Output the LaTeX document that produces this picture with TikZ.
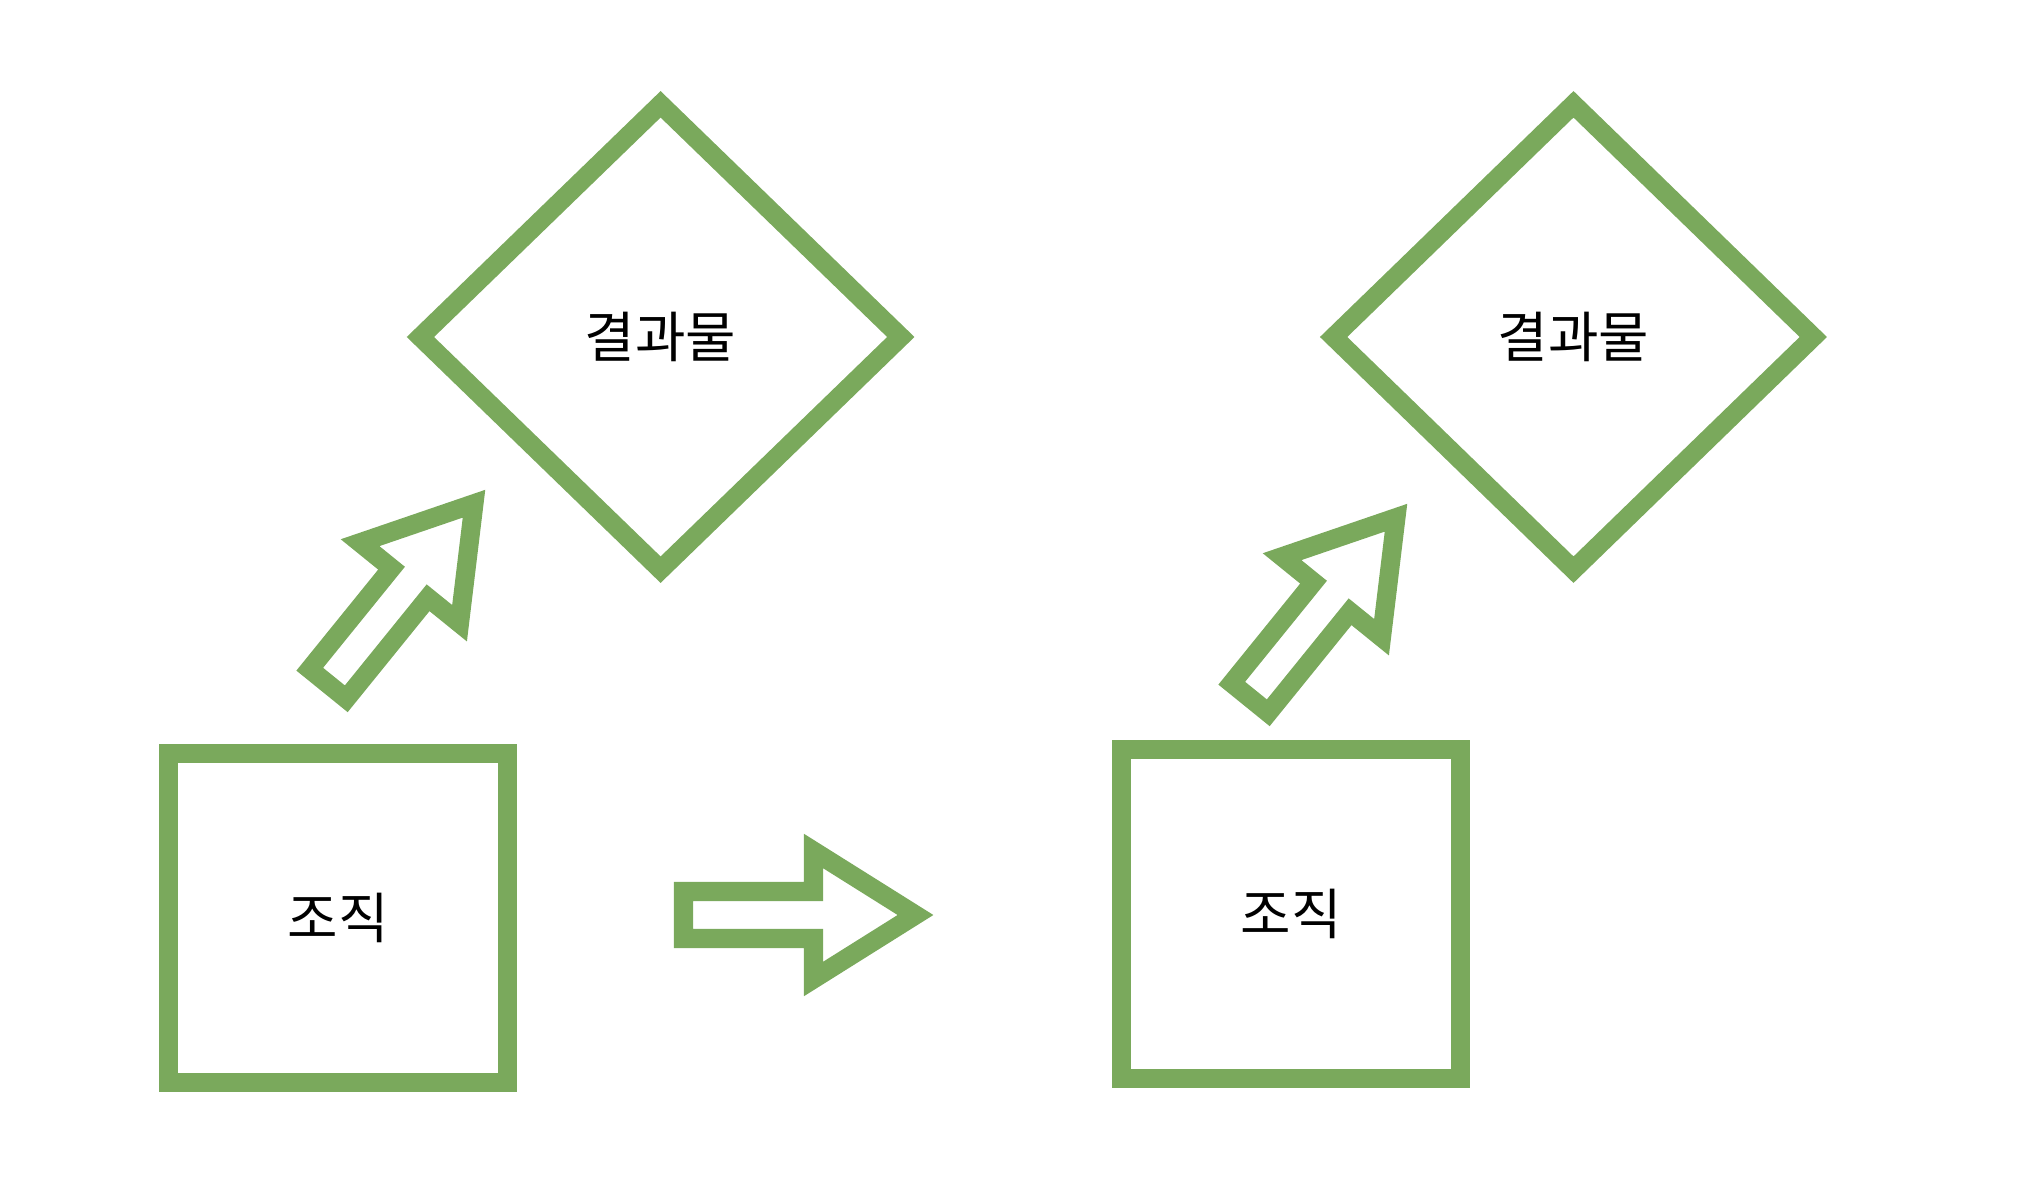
\documentclass[tikz,border=0pt]{standalone}
\usepackage{fontspec}
\usepackage{tikz}
\newfontfamily\kr{Noto Sans CJK KR}
\definecolor{leafgreen}{HTML}{7AA95C}
\tikzset{
  greenline/.style={draw=leafgreen, line width=0.19cm, miter limit=10},
  labeltext/.style={font=\kr\fontsize{15.6}{18}\selectfont},
  boxshape/.style={greenline, labeltext, minimum width=3.39cm, minimum height=3.28cm},
  blockarrow/.pic={
    \draw[greenline] (0,23.5) -- (130,23.5) -- (130,64) -- (232,0) -- (130,-64) -- (130,-23.5) -- (0,-23.5) -- cycle;
  }
}

\begin{document}
\begin{tikzpicture}[x=0.01cm, y=-0.01cm]
\useasboundingbox (0,0) rectangle (2044,1188);
% left group
\node[boxshape] (org1) at (338,918) {조직};
\draw[greenline] (660.6,104.3) -- (900.8,337) -- (660.6,569.7) -- (420.4,337) -- cycle;
\node[labeltext] (res1) at (660.6,337) {결과물};
\pic[rotate=51] at (328,684) {blockarrow};
% middle arrow
\pic at (683.5,915) {blockarrow};
% right group
\node[boxshape] (org2) at (1291,914) {조직};
\draw[greenline] (1573.5,104.3) -- (1813.3,337) -- (1573.5,569.7) -- (1333.6,337) -- cycle;
\node[labeltext] (res2) at (1573.5,337) {결과물};
\pic[rotate=51] at (1250,698) {blockarrow};
\end{tikzpicture}
\end{document}
